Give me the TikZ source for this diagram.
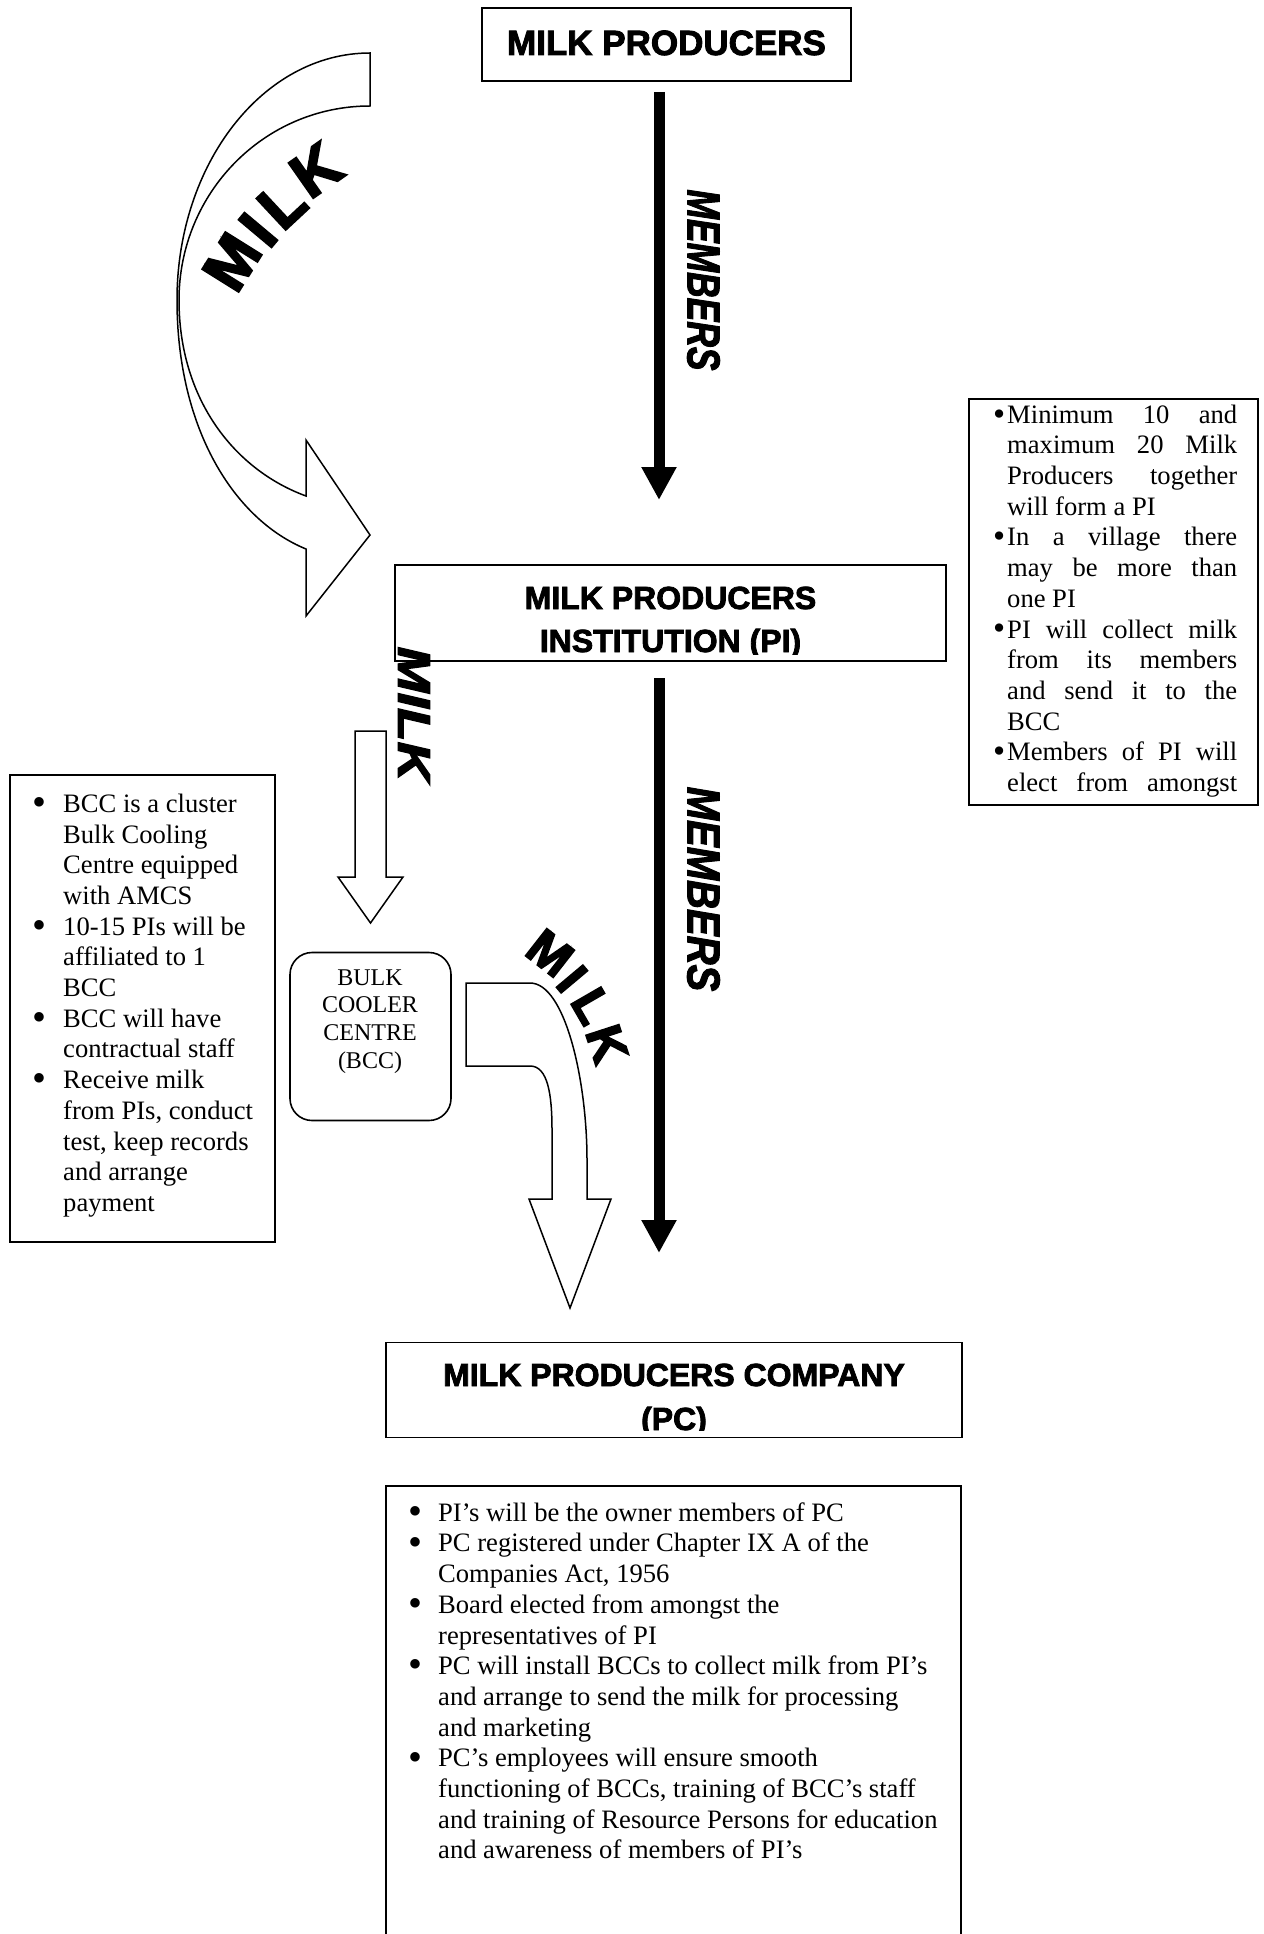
\documentclass[tikz,border=0pt]{standalone}
\usepackage{fontspec}
\usepackage{graphicx}
\setmainfont{Liberation Serif}
\newfontface\hfont{Liberation Sans Bold}[FakeBold=2.5]
\newfontface\wfont{Liberation Sans Bold}[FakeBold=3.5]
\newfontface\wifont{Liberation Sans Bold Italic}[FakeBold=2.5]
\usetikzlibrary{arrows.meta}
\newcommand\bl[1]{\makebox[#1][l]{\raisebox{-0.12em}{\scalebox{1.5}{\textbullet}}}}
\newcommand\bs[1]{\makebox[#1][l]{\raisebox{-0.07em}{\scalebox{1.3}{\textbullet}}}}
\newcommand\jl[1]{\makebox[230pt][s]{#1}}
\begin{document}
\begin{tikzpicture}[x=1pt,y=-1pt,
  box/.style={draw, line width=1.6pt, inner sep=0pt},
  headtxt/.style={font=\hfont\fontsize{32}{40}\selectfont, inner sep=0pt, anchor=base},
  bodytxt/.style={font=\fontsize{26.6}{30.7}\selectfont, inner sep=0pt, anchor=north west, align=left},
  blk/.style={line width=11pt, -{Triangle[width=33pt,length=33pt]}},
  hollow/.style={draw, line width=1.5pt, fill=white, line join=miter},
  milka/.style={font=\wfont\fontsize{62}{62}\selectfont, inner sep=0pt},
  milkb/.style={font=\wfont\fontsize{50}{50}\selectfont, inner sep=0pt},
  vword/.style={font=\wifont\fontsize{46}{46}\selectfont, inner sep=0pt, rotate=-90}
]
\useasboundingbox (0,0) rectangle (1263,1934);
\fill[white] (0,0) rectangle (1263,1934);

% big curved hollow arrow (MILK from producers to PI)
\draw[hollow] (370,53) .. controls (263,53) and (177,164) .. (177,300)
  .. controls (177,430) and (235,520) .. (306,549) -- (306,616) -- (370,535)
  -- (306,440) -- (306,496) .. controls (235,470) and (179,400) .. (179,300)
  .. controls (179,193) and (264,106) .. (370,106) -- cycle;
\node[milka, rotate=58] (ma1) at (232,262) {M};
\node[milka, rotate=50] (ma2) at (258,230) {I};
\node[milka, rotate=43] (ma3) at (282,204) {L};
\node[milka, rotate=35] (ma4) at (316,170) {K};

% top box
\node[box, minimum width=369pt, minimum height=73pt] (mp) at (666.5,44.5) {};
\node[headtxt, font=\hfont\fontsize{35}{40}\selectfont] (mpt) at (666.5,55) {MILK PRODUCERS};

% black arrow 1
\coordinate (b1s) at (659,92);
\coordinate (b1e) at (659,500);
\draw[blk] (b1s) -- (b1e);
\node[vword] (mem1) at (703.5,280) {\scalebox{0.77}[1]{MEMBERS}};

% PI box
\node[box, minimum width=551pt, minimum height=96pt] (pi) at (670.5,613) {};
\begin{scope}
\clip (396,566) rectangle (945,654);
\node[headtxt] (pit1) at (670.5,609) {MILK PRODUCERS};
\node[headtxt] (pit2) at (670.5,652) {INSTITUTION (PI)};
\end{scope}

% right info box
\node[box, minimum width=289pt, minimum height=406pt] (rb) at (1113.5,602) {};
\node[bodytxt] (rbt) at (993,401.5) {\strut\bs{14pt}\jl{Minimum 10 and}\\
\hspace*{14pt}\jl{maximum 20 Milk}\\
\hspace*{14pt}\jl{Producers together}\\
\hspace*{14pt}will form a PI\\
\bs{14pt}\jl{In a village there}\\
\hspace*{14pt}\jl{may be more than}\\
\hspace*{14pt}one PI\\
\bs{14pt}\jl{PI will collect milk}\\
\hspace*{14pt}\jl{from its members}\\
\hspace*{14pt}\jl{and send it to the}\\
\hspace*{14pt}BCC\\
\bs{14pt}\jl{Members of PI will}\\
\hspace*{14pt}\jl{elect from amongst}};

% vertical MILK and small hollow arrow PI -> BCC
\node[vword] (milkv) at (414,714) {\scalebox{1.2}[1]{MILK}};
\draw[hollow] (355,731) -- (386,731) -- (386,877) -- (403,877) -- (370.5,923)
  -- (338,877) -- (355,877) -- cycle;

% left info box
\node[box, minimum width=265pt, minimum height=467pt] (lb) at (142.5,1008.5) {};
\node[bodytxt] (lbt) at (32,790.6) {\strut\bl{31pt}BCC is a cluster\\
\hspace*{31pt}Bulk Cooling\\
\hspace*{31pt}Centre equipped\\
\hspace*{31pt}with AMCS\\
\bl{31pt}10-15 PIs will be\\
\hspace*{31pt}affiliated to 1\\
\hspace*{31pt}BCC\\
\bl{31pt}BCC will have\\
\hspace*{31pt}contractual staff\\
\bl{31pt}Receive milk\\
\hspace*{31pt}from PIs, conduct\\
\hspace*{31pt}test, keep records\\
\hspace*{31pt}and arrange\\
\hspace*{31pt}payment};

% BCC box
\node[box, rounded corners=22pt, minimum width=161pt, minimum height=168pt] (bcc) at (370.5,1036.5) {};
\node[inner sep=0pt, anchor=north, align=center, font=\fontsize{24}{27.8}\selectfont] (bcct) at (370,965.5) {\strut BULK\\COOLER\\CENTRE\\(BCC)};

% bent hollow arrow BCC -> PC
\draw[hollow] (466,983) -- (530,983) .. controls (565,983) and (587,1080) .. (587,1160)
  -- (587,1199) -- (611,1199) -- (570,1308) -- (529,1199) -- (552,1199) -- (552,1130)
  .. controls (552,1095) and (548,1066) .. (530,1066) -- (466,1066) -- cycle;
\node[milkb, rotate=-38] (mb1) at (550,953) {M};
\node[milkb, rotate=-50] (mb2) at (572,979) {I};
\node[milkb, rotate=-60] (mb3) at (592,1006) {L};
\node[milkb, rotate=-72] (mb4) at (607,1044) {K};

% black arrow 2
\coordinate (b2s) at (659,678);
\coordinate (b2e) at (659,1253);
\draw[blk] (b2s) -- (b2e);
\node[vword] (mem2) at (703.5,889) {\scalebox{0.87}[1]{MEMBERS}};

% PC box
\node[box, minimum width=576pt, minimum height=95pt] (pc) at (674,1390) {};
\begin{scope}
\clip (387,1343) rectangle (961,1430);
\node[headtxt] (pct1) at (674,1386) {MILK PRODUCERS COMPANY};
\node[headtxt] (pct2) at (674,1430) {(PC)};
\end{scope}

% bottom info box (open at the bottom)
\draw[line width=1.6pt] (386,1934) -- (386,1486) -- (961,1486) -- (961,1934);
\node[bodytxt] (pcb) at (408,1499.5) {\strut\bl{30pt}PI’s will be the owner members of PC\\
\bl{30pt}PC registered under Chapter IX A of the\\
\hspace*{30pt}Companies Act, 1956\\
\bl{30pt}Board elected from amongst the\\
\hspace*{30pt}representatives of PI\\
\bl{30pt}PC will install BCCs to collect milk from PI’s\\
\hspace*{30pt}and arrange to send the milk for processing\\
\hspace*{30pt}and marketing\\
\bl{30pt}PC’s employees will ensure smooth\\
\hspace*{30pt}functioning of BCCs, training of BCC’s staff\\
\hspace*{30pt}and training of Resource Persons for education\\
\hspace*{30pt}and awareness of members of PI’s};
\end{tikzpicture}
\end{document}
